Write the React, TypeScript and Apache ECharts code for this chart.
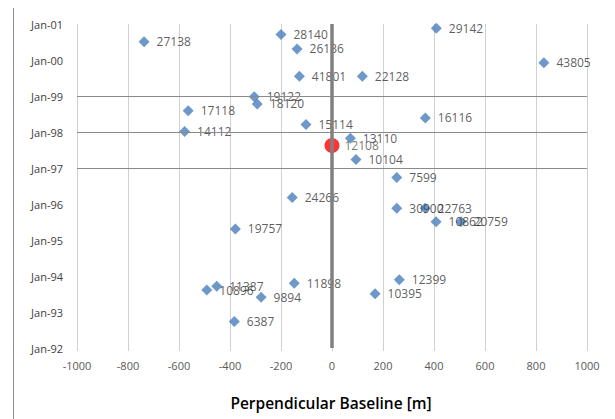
import React, { useEffect, useRef } from "react";
import * as echarts from "echarts";

// Slave acquisitions: orbit number, perpendicular baseline [m], acquisition date
const orbits = [27138, 28140, 26136, 41801, 22128, 29142, 43805, 19122, 18120, 17118, 14112, 15114, 16116, 13110, 10104, 7599, 24266, 30900, 22763, 10862, 20759, 19757, 11898, 12399, 10395, 11387, 10896, 9894, 6387];
const baselines = [-737, -200, -137, -128, 119, 409, 831, -305, -293, -564, -578, -102, 366, 72, 94, 254, -156, 254, 365, 408, 506, -379, -148, 264, 169, -452, -491, -278, -383];
const dates = ["2000-07-05", "2000-09-16", "2000-04-22", "1999-07-19", "1999-07-19", "2000-11-20", "1999-12-05", "1998-12-24", "1998-10-12", "1998-08-04", "1998-01-05", "1998-03-18", "1998-05-23", "1997-10-30", "1997-03-28", "1996-09-27", "1996-03-07", "1995-11-20", "1995-11-20", "1995-07-05", "1995-07-05", "1995-04-23", "1993-10-19", "1993-11-24", "1993-07-05", "1993-09-20", "1993-08-11", "1993-05-30", "1992-09-27"];

// Master acquisition
const masterOrbit = 12108;
const masterBaseline = 0;
const masterDate = "1997-08-18";

// Axes
const xMin = -1000;
const xMax = 1000;
const xStep = 200;
const yearMin = 1992;
const yearMax = 2001;
const refYears = [1997, 1998, 1999];
const axisTitle = "Perpendicular Baseline [m]";

function toYear(s: string): number {
  const [y, m, d] = s.split("-").map(Number);
  const start = Date.UTC(y, 0, 1);
  const end = Date.UTC(y + 1, 0, 1);
  return y + (Date.UTC(y, m - 1, d) - start) / (end - start);
}

const FONT = "'Open Sans', 'DejaVu Sans', sans-serif";

export default function App() {
  const ref = useRef<HTMLDivElement>(null);
  useEffect(() => {
    if (!ref.current) return;
    const chart = echarts.init(ref.current, undefined, { renderer: "svg" });
    const slaveData = orbits.map((o, i) => ({
      value: [baselines[i], toYear(dates[i])],
      name: String(o),
    }));
    chart.setOption({
      animation: false,
      backgroundColor: "#ffffff",
      grid: { left: 77, right: 28, top: 24, bottom: 71, containLabel: false },
      xAxis: {
        type: "value",
        min: xMin,
        max: xMax,
        interval: xStep,
        axisLine: { show: false },
        axisTick: { show: true, length: 3, lineStyle: { color: "#d0d0d0" } },
        splitLine: { show: true, lineStyle: { color: "#d0d0d0", width: 1 } },
        axisLabel: {
          color: "#595959",
          fontSize: 11,
          fontFamily: FONT,
          margin: 12,
          formatter: (v: number) => String(v),
        },
      },
      yAxis: {
        type: "value",
        min: yearMin,
        max: yearMax,
        interval: 1,
        axisLine: { show: false },
        axisTick: { show: false },
        splitLine: { show: false },
        axisLabel: {
          color: "#404040",
          fontSize: 11,
          fontFamily: FONT,
          margin: 14,
          formatter: (v: number) => "Jan-" + String(Math.round(v)).slice(2),
        },
      },
      graphic: [
        {
          type: "line",
          shape: { x1: 13.5, y1: 8, x2: 13.5, y2: 419 },
          style: { stroke: "#8c8c8c", lineWidth: 1 },
          silent: true,
        },
        {
          type: "text",
          x: 331,
          y: 403,
          style: {
            text: axisTitle,
            fill: "#000000",
            font: "600 15.5px " + FONT,
            textAlign: "center",
            textVerticalAlign: "middle",
          },
          silent: true,
        },
      ],
      series: [
        {
          type: "scatter",
          data: [],
          z: 1,
          silent: true,
          markLine: {
            silent: true,
            symbol: "none",
            label: { show: false },
            data: [
              ...refYears.map((y) => ({ yAxis: y, lineStyle: { color: "#8a8a8a", width: 1.2, type: "solid" } })),
              { xAxis: 0, lineStyle: { color: "#808080", width: 3.5, type: "solid" } },
            ],
          },
        },
        {
          type: "scatter",
          z: 3,
          symbol: "diamond",
          symbolSize: 11,
          itemStyle: { color: "#4a7ebb" },
          data: slaveData,
          label: {
            show: true,
            position: "right",
            distance: 7,
            formatter: (p: any) => p.name,
            color: "#333333",
            fontSize: 12,
            fontFamily: FONT,
          },
          labelLayout: { hideOverlap: false },
        },
        {
          type: "scatter",
          z: 4,
          symbol: "circle",
          symbolSize: 15,
          itemStyle: { color: "#ff0000" },
          data: [{ value: [masterBaseline, toYear(masterDate)], name: String(masterOrbit) }],
          label: {
            show: true,
            position: "right",
            distance: 5,
            formatter: (p: any) => p.name,
            color: "#555555",
            fontSize: 12,
            fontFamily: FONT,
          },
        },
      ],
    });
    return () => chart.dispose();
  }, []);
  return <div ref={ref} style={{ width: 615, height: 419, position: "absolute", left: 0, top: 0 }} />;
}
